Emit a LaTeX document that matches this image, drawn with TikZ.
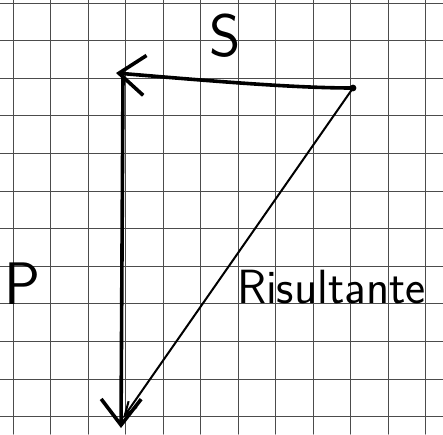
\documentclass[tikz,border=0pt]{standalone}
\usepackage{fontspec}
\usetikzlibrary{arrows.meta, calc}

\begin{document}
\begin{tikzpicture}[
    x = 1pt, y = -1pt, line cap = round,
    gridline/.style={black!70, line width=1pt},
    force/.style={-{Straight Barb[length=26pt, width=40pt]}, line width=3.6pt},
    result/.style={-{Straight Barb[length=14pt, width=10pt]}, line width=2pt},
    dot/.style={circle, fill, inner sep=2.4pt},
    lbl/.style={inner sep=0pt, font=\sffamily\fontsize{#1}{#1}\selectfont}
]
\useasboundingbox (0,0) rectangle (443,434);

% 1. SQUARED PAPER
\foreach \i in {0,...,11} {
    \draw[gridline] ({13+37.5*\i}, 0) -- ({13+37.5*\i}, 434);
    \draw[gridline] (0, {3+37.6*\i}) -- (443, {3+37.6*\i});
}

% 2. POINTS
\node[dot] (O) at (353,88) {};
\coordinate (S) at (116,73);
\coordinate (Pt) at (121,428);
\coordinate (R) at (123,418);

% 3. FORCES
\draw[force] (O.center) .. controls (290,88) and (200,80) .. (S);
\draw[force] (123,76) -- (Pt);
\draw[result] (O.center) -- (R);

% 4. LABELS
\node[lbl=60] (labS) at (225,36) {S};
\node[lbl=60] (labP) at (23,284) {P};
\node[lbl=48, anchor=base west] (labR) at (237,303) {Risultante};
\end{tikzpicture}
\end{document}
